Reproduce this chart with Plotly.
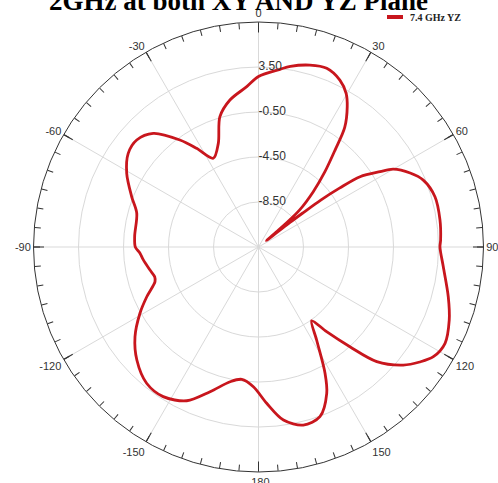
import plotly.graph_objects as go

# Measured YZ-plane gain pattern at 7.4 GHz (angle in degrees, gain in dB)
angles = [0, 6.9, 10, 15.8, 20.9, 26, 29.7, 32.3, 35.8, 38.3, 41.4, 44.7, 48, 50, 51,
          52, 52.5, 53, 54, 55.3, 58.2, 60, 64, 67.9, 74.1, 81.5, 87.8, 90, 96.1,
          104.7, 111, 117.3, 122.1, 125.5, 129.2, 134.1, 137.5, 141.2, 144.2, 148,
          152.2, 155, 160.1, 165.9, 171.8, 177, 182.1, 187.2, 191.9, 198.5, 205,
          212.5, 219.4, 227.1, 234, 240.8, 246, 251.5, 254, 258, 263.6, 267, 270,
          275, 285.5, 291.6, 299.2, 305.7, 311.3, 317.2, 323.7, 327.9, 333, 338.8,
          343.5, 349, 355.8, 360]
gain_db = [2.65, 3.41, 3.8, 4.3, 4.5, 4.0, 3.22, 2.26, 0.6, -1.52, -3.57, -5.58, -7.6,
           -10.3, -11.6, -8.95, -7.43, -5.57, -3.6, -1.52, 0.21, 1.33, 2.5, 3.31, 3.81,
           3.81, 3.7, 3.63, 4.02, 4.94, 5.66, 6.16, 5.85, 5.1, 4.1, 2.14, -0.47, -2.84,
           -4.42, -2.75, 0.18, 1.85, 3.54, 3.82, 3.04, 1.41, -0.07, -0.64, -0.26, 1.07,
           2.58, 3.27, 3.17, 2.26, 1.07, -0.43, -1.63, -2.8, -2.9, -2.64, -2.2, -1.95,
           -1.55, -1.45, -1.27, -0.38, 0.92, 1.76, 1.91, 1.27, -0.7, -2.14, -3.65,
           -2.62, -0.42, 0.81, 1.79, 2.65]

series_name = "7.4 GHz YZ"
title_text = "2GHz at both XY AND YZ Plane"

radial_ticks = [-8.5, -4.5, -0.5, 3.5]
radial_range = [-12.5, 7.5]
angle_ticks = list(range(0, 360, 30))
angle_labels = ["0", "30", "60", "90", "120", "150", "-180",
                "-150", "-120", "-90", "-60", "-30"]
minor_angle_ticks = list(range(0, 360, 5))

W, H = 498, 483
cx, cy, R = 258.5, 247, 225
domain_x = [(cx - R) / W, (cx + R) / W]
domain_y = [(H - cy - R) / H, (H - cy + R) / H]

red = "#c8161d"
grid = "#d9d9d9"
axis_col = "#333333"

fig = go.Figure()

fig.add_trace(go.Scatterpolar(
    r=gain_db, theta=angles, mode="lines", name=series_name,
    line=dict(color=red, width=2.8, shape="spline", smoothing=0.9),
    subplot="polar", showlegend=False,
))

# radial scale labels along the 0 degree spoke
fig.add_trace(go.Scatterpolar(
    r=radial_ticks, theta=[0] * len(radial_ticks), mode="text",
    text=[f"{v:.2f}" for v in radial_ticks], textposition="middle right",
    textfont=dict(family="Arial, Liberation Sans", size=12, color="#333"),
    subplot="polar", showlegend=False, hoverinfo="skip",
))

# second polar layer only carries the 5 degree minor ticks
fig.add_trace(go.Scatterpolar(
    r=[None], theta=[None], mode="lines", subplot="polar2",
    showlegend=False, hoverinfo="skip",
))

fig.update_layout(
    width=W, height=H,
    margin=dict(l=0, r=0, t=0, b=0),
    paper_bgcolor="white",
    polar=dict(
        domain=dict(x=domain_x, y=domain_y),
        bgcolor="white",
        radialaxis=dict(
            range=radial_range, tickvals=radial_ticks, showticklabels=False,
            ticks="", showline=False, angle=90,
            gridcolor=grid, gridwidth=1,
        ),
        angularaxis=dict(
            rotation=90, direction="clockwise",
            tickvals=angle_ticks, ticktext=angle_labels,
            ticks="inside", ticklen=10, tickwidth=1, tickcolor=axis_col,
            showline=True, linecolor=axis_col, linewidth=1,
            gridcolor=grid, gridwidth=1,
            tickfont=dict(family="Arial, Liberation Sans", size=11, color="#333"),
        ),
    ),
    polar2=dict(
        domain=dict(x=domain_x, y=domain_y),
        bgcolor="rgba(0,0,0,0)",
        radialaxis=dict(visible=False, range=radial_range),
        angularaxis=dict(
            rotation=90, direction="clockwise",
            tickvals=minor_angle_ticks, showticklabels=False,
            ticks="inside", ticklen=6, tickwidth=1, tickcolor=axis_col,
            showline=False, showgrid=False,
        ),
    ),
    annotations=[
        dict(text=f"<b>{title_text}</b>", xref="paper", yref="paper",
             x=238 / W, y=1 - 0.5 / H, xanchor="center", yanchor="middle",
             showarrow=False,
             font=dict(family="Liberation Serif, Times New Roman", size=27, color="black")),
        dict(text=f"<b>{series_name}</b>", xref="paper", yref="paper",
             x=408 / W, y=1 - 17 / H, xanchor="left", yanchor="middle",
             showarrow=False,
             font=dict(family="Liberation Serif, Times New Roman", size=10, color="#222")),
    ],
    shapes=[
        dict(type="line", xref="paper", yref="paper",
             x0=387 / W, x1=403 / W, y0=1 - 17 / H, y1=1 - 17 / H,
             line=dict(color=red, width=4)),
    ],
)

fig.write_html("out.html")
